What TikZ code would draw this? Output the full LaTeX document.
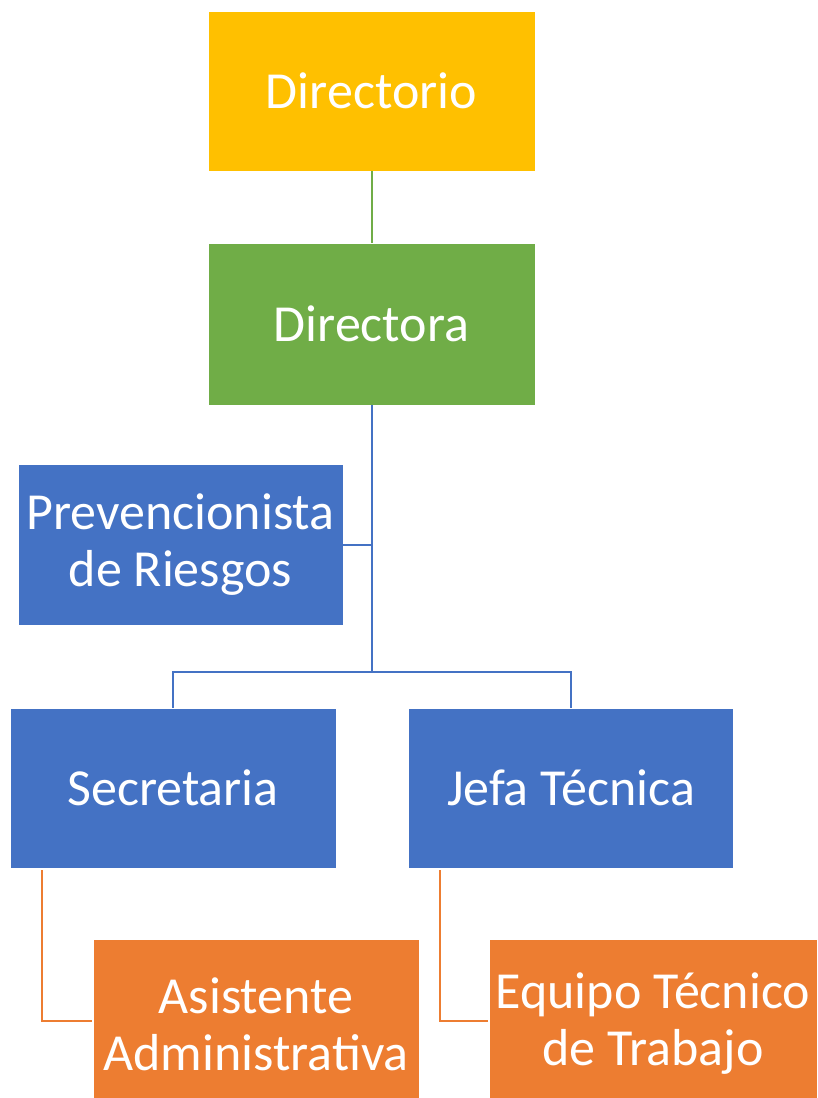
\documentclass[tikz,border=0pt]{standalone}
\usepackage{fontspec}
\setmainfont{Carlito}
\definecolor{amber}{HTML}{FFC000}
\definecolor{ogreen}{HTML}{70AD47}
\definecolor{oblue}{HTML}{4472C4}
\definecolor{oorange}{HTML}{ED7D31}
\tikzset{
  box/.style={rectangle, inner sep=0pt, text=white, align=center,
    font=\fontsize{52}{57}\selectfont, draw=white, line width=0.8pt},
  link/.style={line width=2pt}
}
\begin{document}
\begin{tikzpicture}[x=1pt,y=-1pt]
\useasboundingbox (0,0) rectangle (818,1098);
\clip (0,0) rectangle (818,1098);
\node[box, fill=amber, minimum width=327, minimum height=160] (dirio) at (371.5,91) {Directorio};
\node[box, fill=ogreen, minimum width=327, minimum height=162] (dora) at (371.5,324) {Directora};
\node[box, fill=oblue, minimum width=325, minimum height=161] (prev) at (180.5,544.5) {Prevencionista\\de Riesgos};
\node[box, fill=oblue, minimum width=326, minimum height=160] (sec) at (173,788) {Secretaria};
\node[box, fill=oblue, minimum width=325, minimum height=160] (jefa) at (571,788) {Jefa Técnica};
\node[box, fill=oorange, minimum width=326, minimum height=170] (asi) at (256,1024) {Asistente\\Administrativa};
\node[box, fill=oorange, minimum width=328, minimum height=170] (eq) at (653,1024) {Equipo Técnico\\de Trabajo};
\coordinate (hub) at (371.5,672);
\coordinate (s1) at (42,870);
\coordinate (j1) at (440,870);
\coordinate (a1) at (92,1021);
\coordinate (e1) at (488,1021);
\draw[link, ogreen] (dirio.south) -- (dora.north);
\draw[link, oblue] (dora.south) -- (hub);
\draw[link, oblue] (prev.east) -- (prev.east -| dora.south);
\draw[link, oblue] (hub) -| (sec.north);
\draw[link, oblue] (hub) -| (jefa.north);
\draw[link, oorange] (s1) |- (a1);
\draw[link, oorange] (j1) |- (e1);
\end{tikzpicture}
\end{document}
